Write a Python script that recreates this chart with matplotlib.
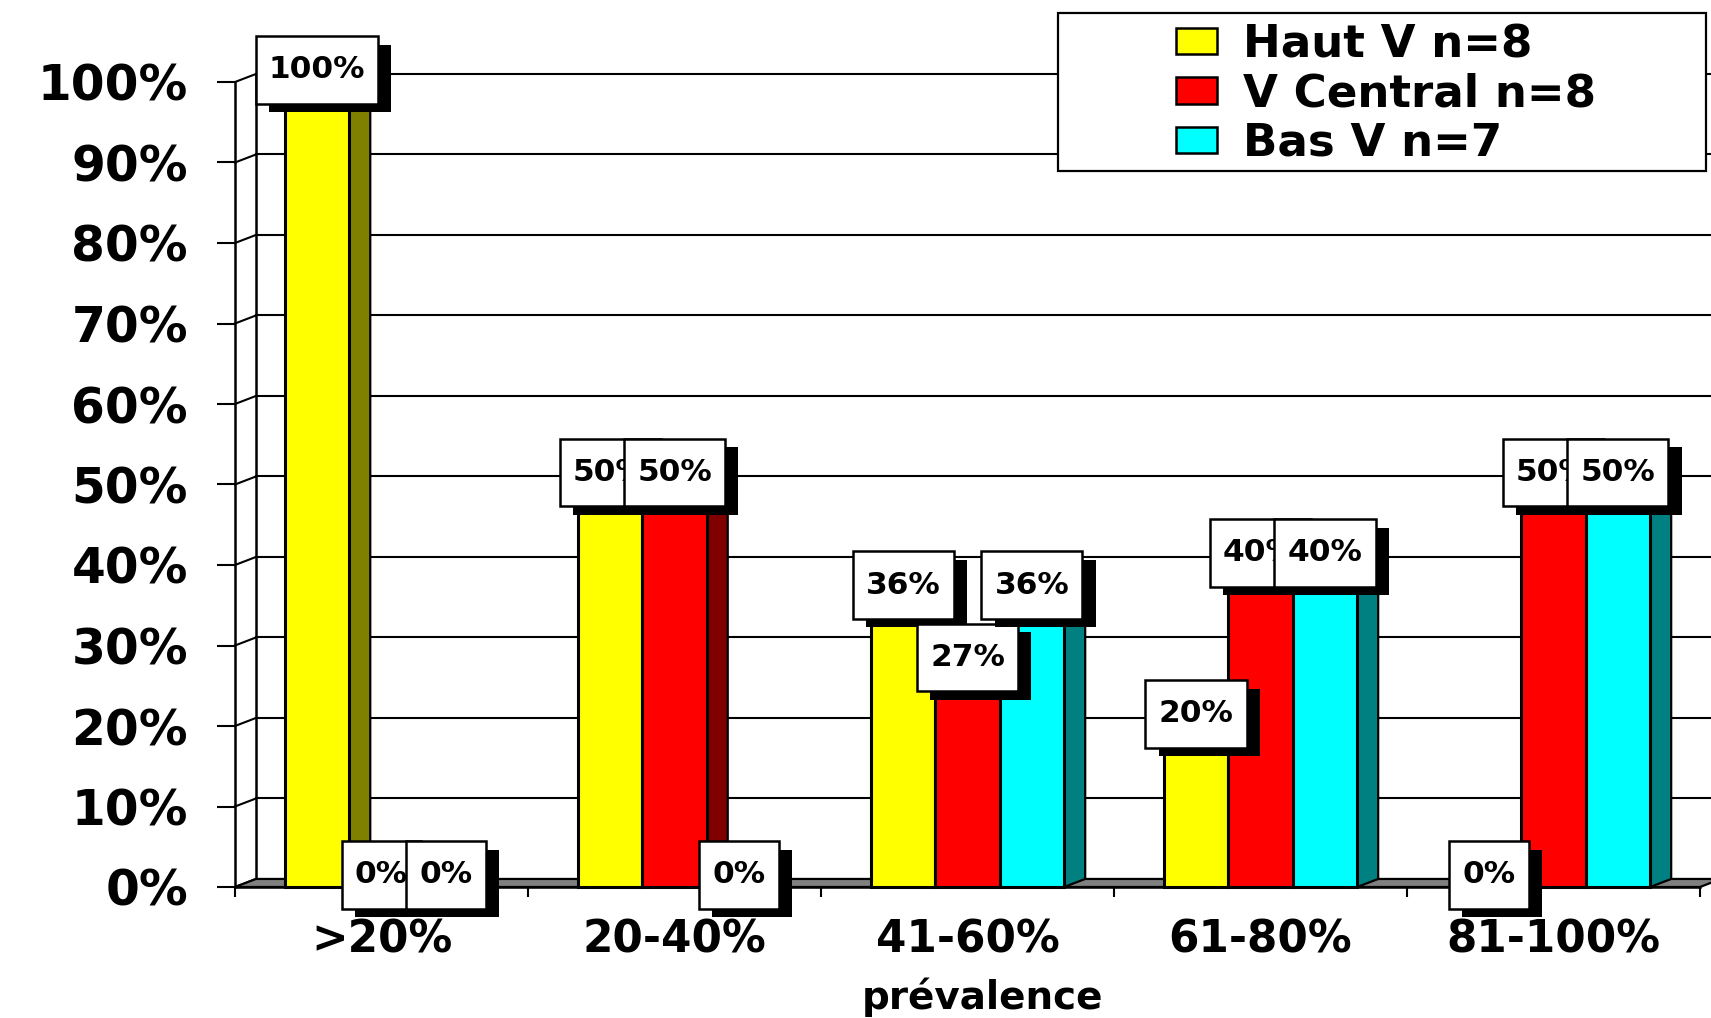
import matplotlib
matplotlib.use('Agg')
import matplotlib.pyplot as plt
import matplotlib.patheffects as pe
from matplotlib.patches import Polygon, Patch, Rectangle
from matplotlib.path import Path

categories = ['>20%', '20-40%', '41-60%', '61-80%', '81-100%']
series_names = ['Haut V n=8', 'V Central n=8', 'Bas V n=7']
haut_v = [100, 50, 36, 20, 0]
v_central = [0, 50, 27, 40, 50]
bas_v = [0, 0, 36, 40, 50]
y_ticks = [0, 10, 20, 30, 40, 50, 60, 70, 80, 90, 100]

front_colors = ['#FFFF00', '#FF0000', '#00FFFF']
side_colors = ['#808000', '#800000', '#008080']

W, H = 1711, 1018
fig = plt.figure(figsize=(W / 100, H / 100), dpi=100)
ax = fig.add_axes([235 / W, (H - 887) / H, 1465 / W, 805 / H])
ax.set_xlim(0, len(categories))
ax.set_ylim(0, 100)
for sp in ax.spines.values():
    sp.set_visible(False)
ax.patch.set_visible(False)

# fake 3D depth: offset of the back plane in data units
dx = 21 / 293
dy = 1.0
bar_w = 0.22
n_cat = len(categories)

# floor
floor = Polygon([(0, 0), (n_cat, 0), (n_cat + dx, dy), (dx, dy)],
                closed=True, facecolor='#808080', edgecolor='black',
                linewidth=1.6, zorder=2, clip_on=False)
ax.add_patch(floor)

# back wall gridlines and left wall
for v in y_ticks:
    if v > 0:
        ax.plot([dx, n_cat + dx], [v + dy, v + dy], color='black', lw=1.5,
                zorder=1, clip_on=False)
    ax.plot([0, dx], [v, v + dy], color='black', lw=1.5, zorder=1,
            clip_on=False)
ax.plot([0, 0], [0, 100], color='black', lw=1.8, zorder=1, clip_on=False)
ax.plot([dx, dx], [dy, 100 + dy], color='black', lw=1.8, zorder=1,
        clip_on=False)
ax.plot([0, n_cat], [0, 0], color='black', lw=1.8, zorder=3, clip_on=False)

all_values = [haut_v, v_central, bas_v]
offsets = [-bar_w, 0, bar_w]

# bars, painted left to right so the next bar hides the side of the previous
z = 10
for k in range(n_cat):
    for i, vals in enumerate(all_values):
        v = vals[k]
        if v == 0:
            continue
        xc = k + 0.5 + offsets[i]
        xl, xr = xc - bar_w / 2, xc + bar_w / 2
        side = Polygon([(xr, 0), (xr, v), (xr + dx, v + dy), (xr + dx, dy)],
                       closed=True, facecolor=side_colors[i],
                       edgecolor='black', linewidth=1.6, zorder=z,
                       clip_on=False)
        top = Polygon([(xl, v), (xr, v), (xr + dx, v + dy), (xl + dx, v + dy)],
                      closed=True, facecolor=front_colors[i],
                      edgecolor='black', linewidth=1.6, zorder=z + 1,
                      clip_on=False)
        ax.add_patch(side)
        ax.add_patch(top)
        bar = ax.bar(xc, v, width=bar_w, color=front_colors[i],
                     edgecolor='black', linewidth=2.2, zorder=z + 2)
        bar[0].set_clip_on(False)
        z += 3


def label_box(x0, y0, width, height, mutation_size):
    # rectangle with more vertical than horizontal padding
    px, py = 0.42 * mutation_size, 0.62 * mutation_size
    x0, y0 = x0 - px, y0 - py
    x1, y1 = x0 + width + 2 * px, y0 + height + 2 * py
    return Path([(x0, y0), (x1, y0), (x1, y1), (x0, y1), (x0, y0)],
                closed=True)


# value labels with drop shadow
z = 200
for i, vals in enumerate(all_values):
    for k, v in enumerate(vals):
        xc = k + 0.5 + offsets[i]
        t = ax.text(xc, v + 1.5, f'{v}%', ha='center', va='center',
                    fontsize=22.5, fontweight='bold', zorder=z,
                    bbox=dict(boxstyle=label_box, facecolor='white',
                              edgecolor='black', linewidth=1.8))
        t.get_bbox_patch().set_path_effects([
            pe.SimplePatchShadow(offset=(9.4, -6.1), shadow_rgbFace='black',
                                 alpha=1.0),
            pe.Normal()])
        z += 1

# axes ticks
ax.set_yticks(y_ticks)
ax.set_yticklabels([f'{v}%' for v in y_ticks], fontsize=35,
                   fontweight='bold')
ax.tick_params(axis='y', length=13, width=1.5, pad=21)

ax.set_xticks([k + 0.5 for k in range(n_cat)])
ax.set_xticklabels(categories, fontsize=31.5, fontweight='bold')
ax.set_xticks(range(n_cat + 1), minor=True)
ax.tick_params(axis='x', which='major', length=0, pad=23)
ax.tick_params(axis='x', which='minor', length=7, width=1.5)

ax.set_xlabel('prévalence', fontsize=28, fontweight='bold')
ax.xaxis.set_label_coords(0.51, -0.112)

# legend with its own box
frame = Rectangle((1058 / W, 1 - 171 / H), 648 / W, 158 / H,
                  transform=fig.transFigure, facecolor='white',
                  edgecolor='black', linewidth=1.6, zorder=300,
                  clip_on=False)
ax.add_patch(frame)
handles = [Patch(facecolor=front_colors[i], edgecolor='black', linewidth=1.8,
                 label=series_names[i]) for i in range(3)]
leg = ax.legend(handles=handles, loc='center left',
                bbox_to_anchor=(1176 / W, 1 - 94 / H),
                bbox_transform=fig.transFigure, frameon=False,
                borderpad=0, borderaxespad=0, handlelength=0.9,
                handleheight=0.52, handletextpad=0.59, labelspacing=0.14,
                prop={'weight': 'bold', 'size': 32.5})
leg.set_zorder(310)

fig.savefig('out.png', dpi=100)
